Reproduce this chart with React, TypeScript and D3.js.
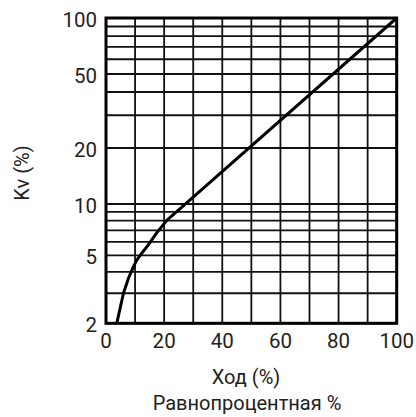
import React from "react";
import * as d3 from "d3";

const strokePct = [3.7, 6, 7.7, 9.4, 10.6, 12.5, 14.5, 17.5, 21, 100];
const kvPct = [2, 3, 3.66, 4.28, 4.69, 5.2, 5.74, 6.8, 8.05, 100];

const xTicks = [0, 20, 40, 60, 80, 100];
const yTicks = [2, 5, 10, 20, 50, 100];
const xGrid = d3.range(0, 101, 10);
const yGrid = [2, 3, 4, 5, 6, 7, 8, 9, 10, 20, 30, 40, 50, 60, 70, 80, 90, 100];

const xTitle = "Ход (%)";
const yTitle = "Kv (%)";
const subTitle = "Равнопроцентная %";

export default function App() {
  const W = 416;
  const H = 417;
  const left = 106;
  const right = 396.7;
  const top = 18;
  const bottom = 323.3;

  const x = d3.scaleLinear().domain([0, 100]).range([left, right]);
  const y = d3.scaleLog().domain([2, 10, 100]).range([bottom, 204, top]);

  const line = d3
    .line<number>()
    .x((_, i) => x(strokePct[i]))
    .y((d) => y(d))
    .curve(d3.curveLinear);

  const font = "Roboto, 'Noto Sans', sans-serif";

  return (
    <svg
      width={W}
      height={H}
      style={{ position: "absolute", left: 0, top: 0, background: "#fff" }}
      fontFamily={font}
    >
      <g stroke="#111" strokeWidth={1.8}>
        {xGrid.map((v) => (
          <line key={"vx" + v} x1={x(v)} x2={x(v)} y1={top} y2={bottom} />
        ))}
        {yGrid.map((v) => (
          <line key={"hy" + v} x1={left} x2={right} y1={y(v)} y2={y(v)} />
        ))}
      </g>
      <rect
        x={left}
        y={top}
        width={right - left}
        height={bottom - top}
        fill="none"
        stroke="#000"
        strokeWidth={3}
      />
      <path d={line(kvPct) || ""} fill="none" stroke="#000" strokeWidth={3} strokeLinejoin="round" />
      <g fontSize={20.5} fill="#222">
        {yTicks.map((v) => (
          <text key={"yt" + v} x={97} y={y(v) + 2} textAnchor="end" dominantBaseline="central">
            {v}
          </text>
        ))}
        {xTicks.map((v) => (
          <text key={"xt" + v} x={x(v)} y={347.5} textAnchor="middle">
            {v}
          </text>
        ))}
      </g>
      <text x={246} y={384} textAnchor="middle" fontSize={20} fill="#222">
        {xTitle}
      </text>
      <text x={247} y={410} textAnchor="middle" fontSize={20} fill="#222">
        {subTitle}
      </text>
      <text
        transform={`translate(29,173) rotate(-90)`}
        textAnchor="middle"
        fontSize={20}
        fill="#222"
      >
        {yTitle}
      </text>
    </svg>
  );
}
